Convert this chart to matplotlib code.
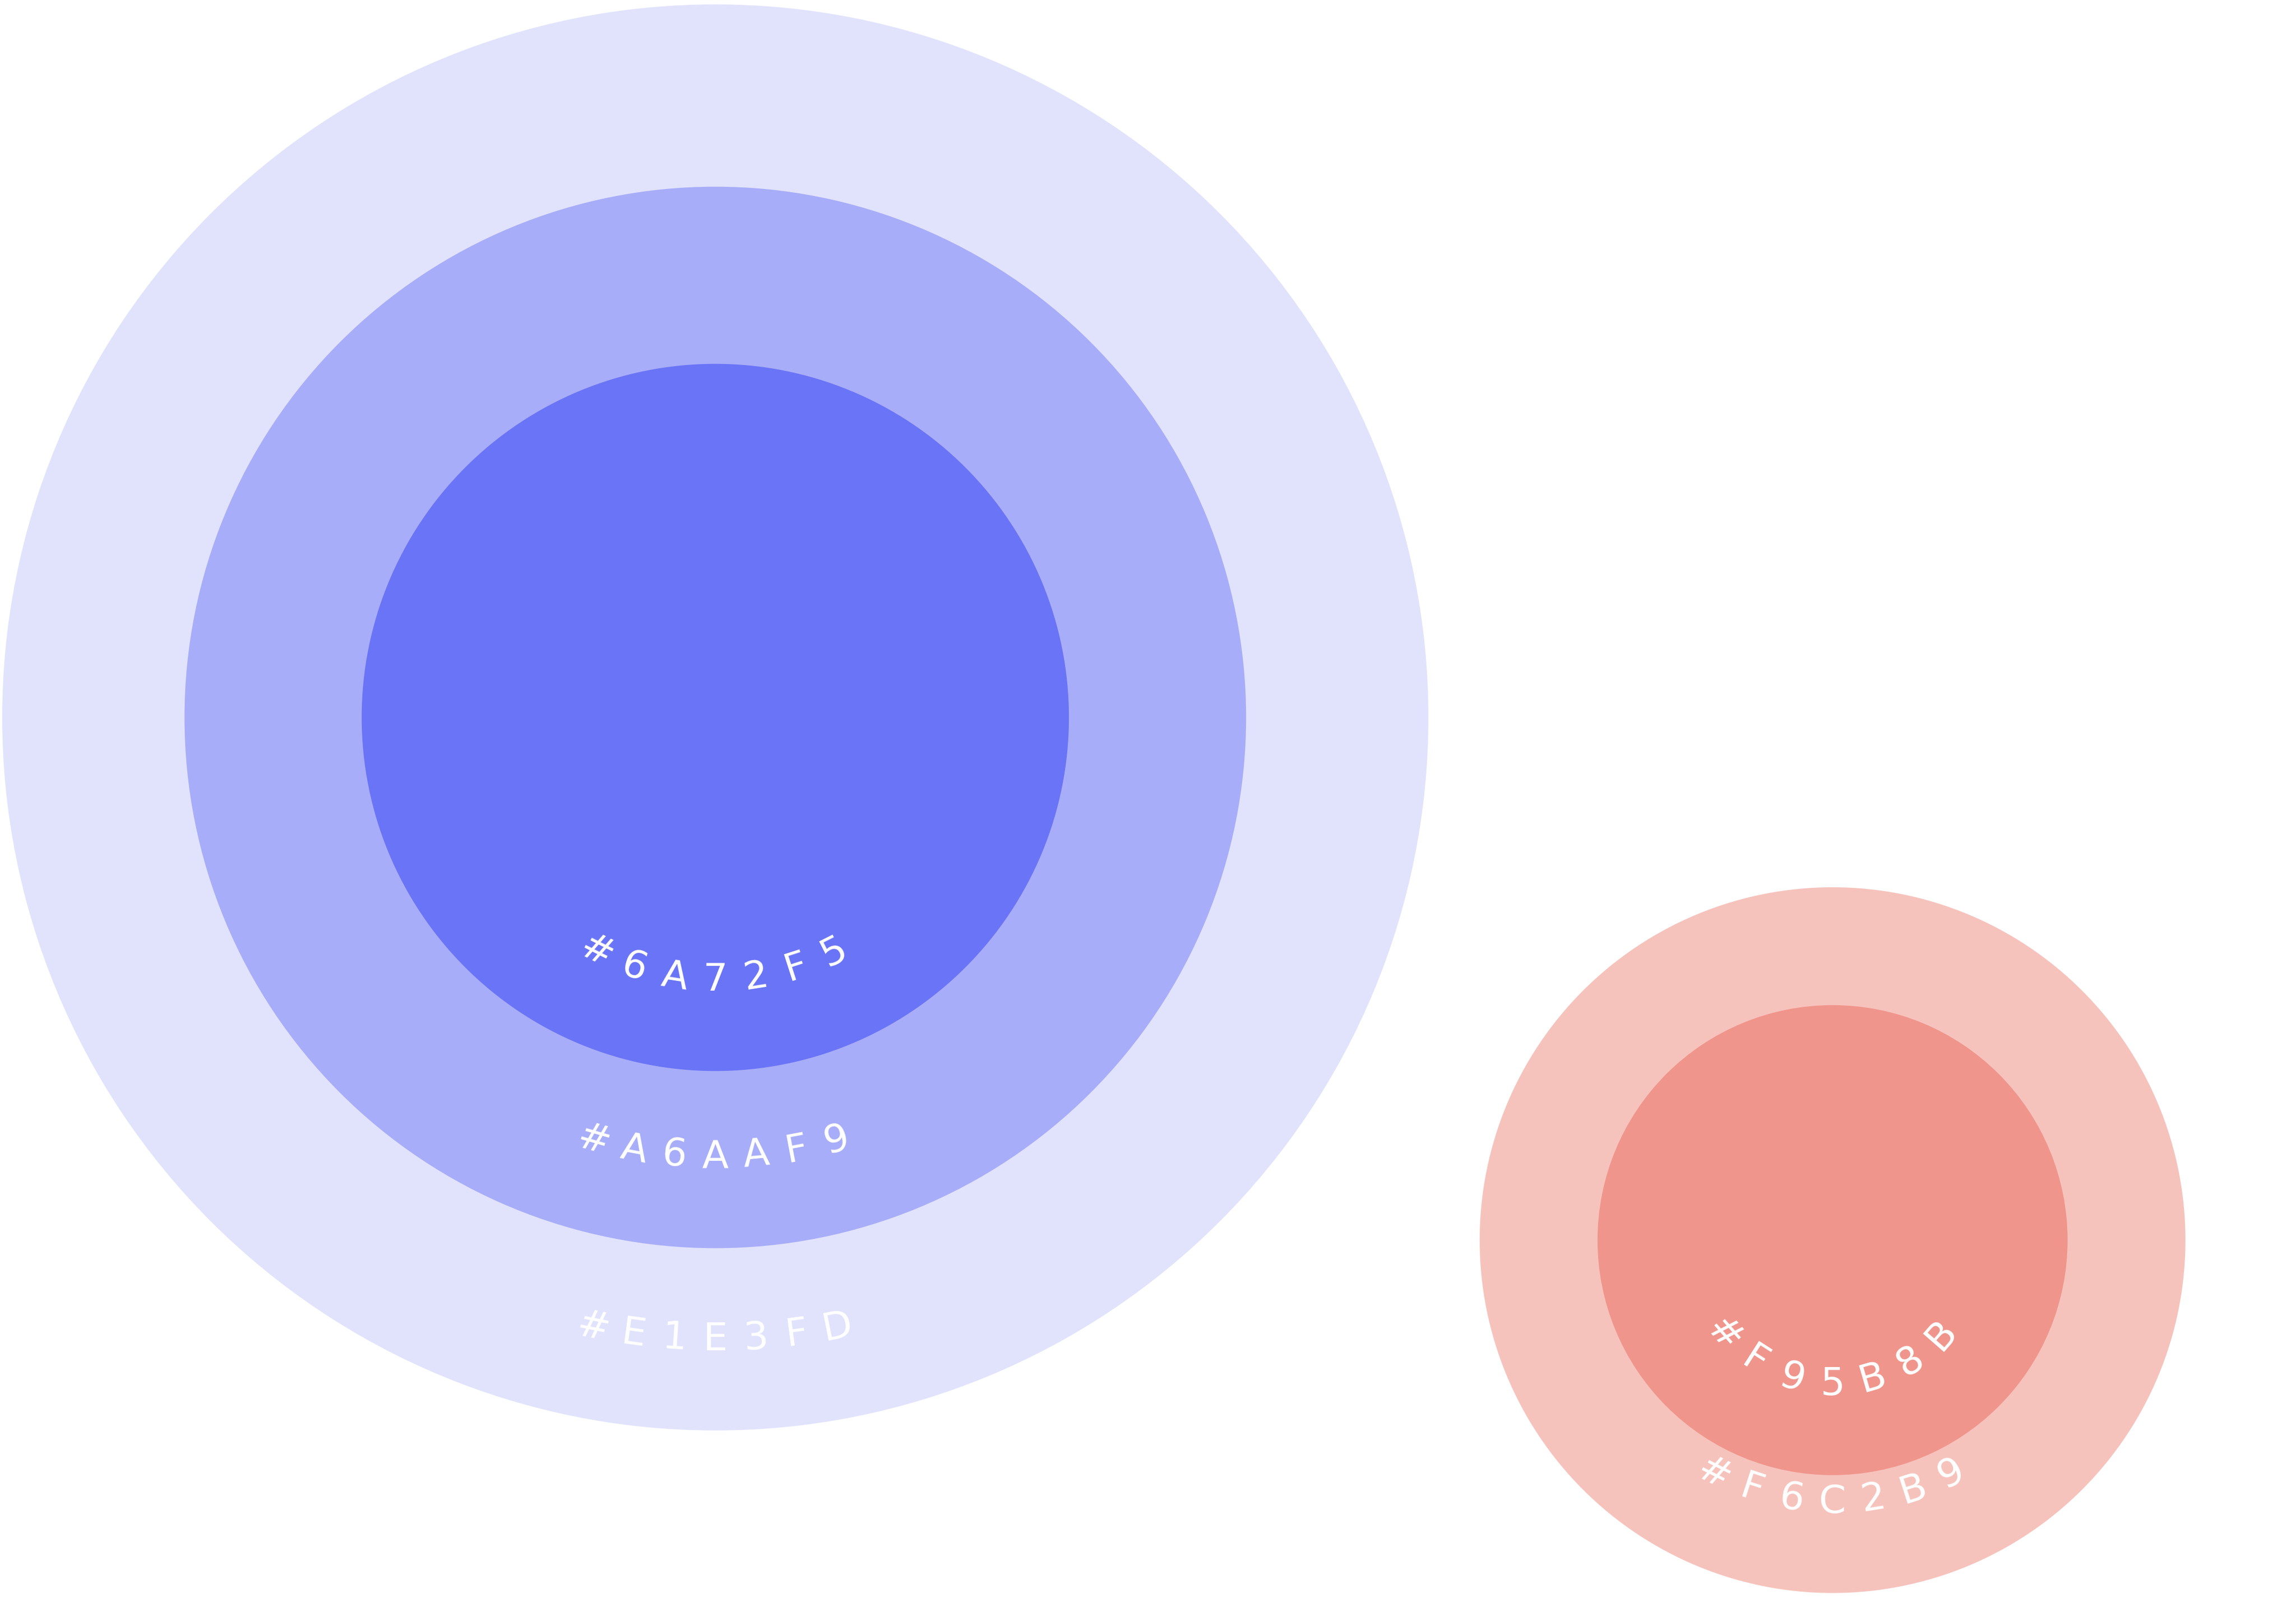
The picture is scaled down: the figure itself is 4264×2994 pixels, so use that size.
import numpy as np
import matplotlib
matplotlib.use("Agg")
import matplotlib.pyplot as plt
from matplotlib.patches import Circle

W, H = 4264, 2994
S = W / 1568.0

groups = ["big", "big", "big", "small", "small"]
labels = ["#E1E3FD", "#A6AAF9", "#6A72F5", "#F6C2B9", "#F95B8B"]
colors = ["#E1E3FD", "#A8ADF9", "#6A74F6", "#F6C3BC", "#EF958C"]
radii = [487, 362.5, 241.5, 241, 160.5]
centers = {"big": (488.5, 490), "small": (1251.5, 847)}

fig = plt.figure(figsize=(W / 100, H / 100), dpi=100)
ax = fig.add_axes([0, 0, 1, 1])
ax.set_xlim(0, W)
ax.set_ylim(0, H)
ax.set_aspect("equal")
ax.axis("off")

for g, lab, col, r in zip(groups, labels, colors, radii):
    cx, cy = centers[g]
    cx *= S
    cy = H - cy * S
    R = r * S
    ax.add_patch(Circle((cx, cy), R, facecolor=col, edgecolor="none"))
    Rt = R - 62 * S
    step = 28 * S
    n = len(lab)
    for i, ch in enumerate(lab):
        phi = (i - (n - 1) / 2) * step / Rt
        x = cx + Rt * np.sin(phi)
        y = cy - Rt * np.cos(phi)
        ax.text(x, y, ch, color="white", fontsize=52, family="DejaVu Sans",
                rotation=np.degrees(phi), rotation_mode="anchor",
                ha="center", va="center")

fig.savefig("out.png", dpi=100, facecolor="white")
